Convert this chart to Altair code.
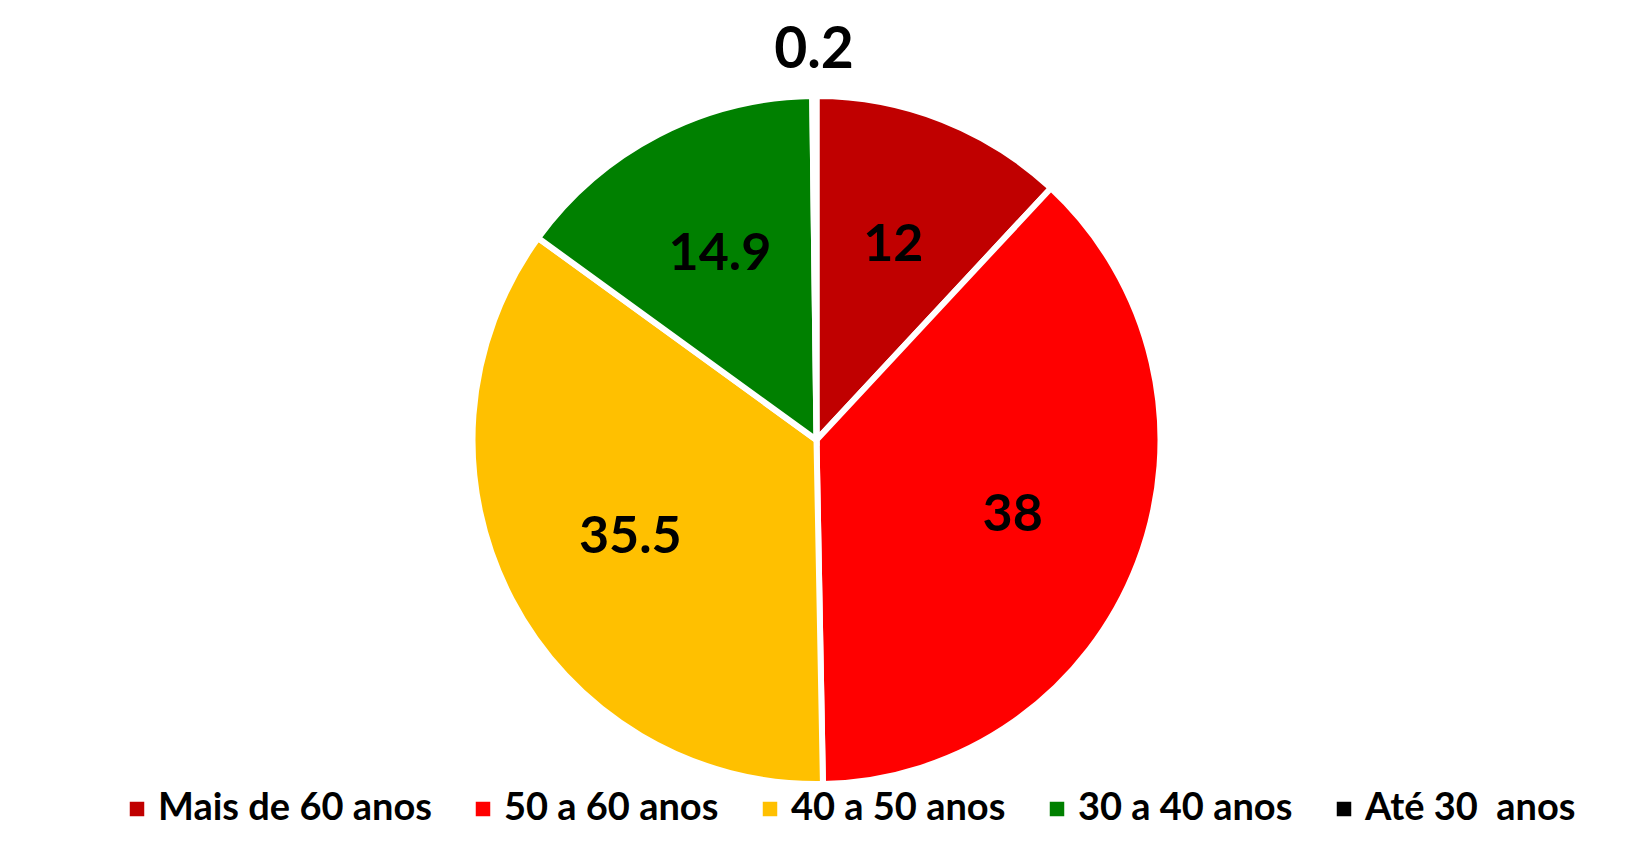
import altair as alt
import pandas as pd

categories = ["Mais de 60 anos", "50 a 60 anos", "40 a 50 anos", "30 a 40 anos", "Até 30\u00a0 anos"]
values = [12, 38, 35.5, 14.9, 0.2]
colors = ["#C00000", "#FF0000", "#FFC000", "#008000", "#000000"]

df = pd.DataFrame({
    "faixa": categories,
    "valor": values,
    "ordem": list(range(len(categories))),
    "rotulo": [f"{v:g}" for v in values],
})

cx, cy = 808.5, 432
R = 344

base = alt.Chart(df).encode(
    theta=alt.Theta("valor:Q", stack=True),
    order=alt.Order("ordem:Q", sort="ascending"),
)

pie = base.mark_arc(stroke="white", strokeWidth=6, outerRadius=R).encode(
    color=alt.Color(
        "faixa:N",
        scale=alt.Scale(domain=categories, range=colors),
        sort=categories,
        legend=alt.Legend(
            title=None,
            orient="none",
            legendX=110,
            legendY=782,
            direction="horizontal",
            columns=5,
            symbolType="square",
            symbolSize=210,
            symbolStrokeWidth=0,
            labelFont="Lato",
            labelFontSize=38,
            labelFontWeight="bold",
            labelColor="black",
            labelOffset=2,
            columnPadding=32,
            padding=0,
            labelLimit=0,
        ),
    ),
    x=alt.value(cx),
    y=alt.value(cy),
)

inner = base.mark_text(
    radius=210, font="Lato", fontSize=52, fontWeight="bold", color="black"
).encode(
    text=alt.condition("datum.valor >= 1", "rotulo:N", alt.value("")),
    x=alt.value(cx),
    y=alt.value(cy),
)

outer = base.mark_text(
    radius=389, font="Lato", fontSize=57, fontWeight="bold", color="black"
).encode(
    text=alt.condition("datum.valor < 1", "rotulo:N", alt.value("")),
    x=alt.value(cx),
    y=alt.value(cy),
)

chart = alt.layer(pie, inner, outer).properties(
    width=1630,
    height=830,
    autosize=alt.AutoSizeParams(type="none"),
    padding=0,
).configure_view(stroke=None)

chart.save("out.html", embed_options={"renderer": "svg", "actions": False})
